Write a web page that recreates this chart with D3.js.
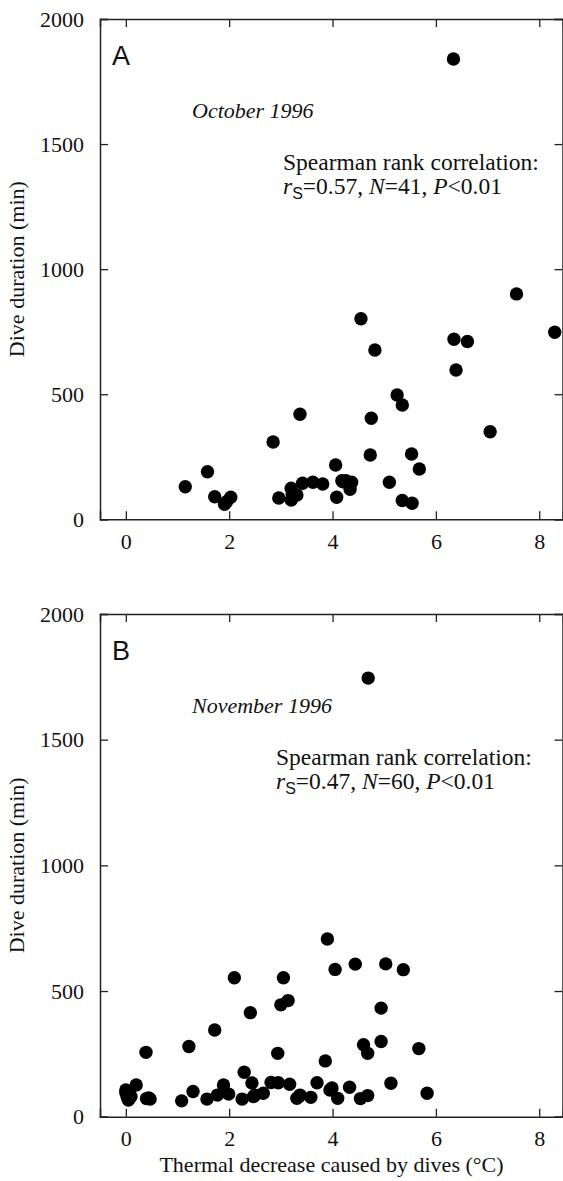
<!DOCTYPE html>
<html>
<head>
<meta charset="utf-8">
<script src="https://cdn.jsdelivr.net/npm/d3@7"></script>
<style>
  body { margin: 0; background: #fff; }
  svg { display: block; }
  text { font-family: "Liberation Serif", "Times New Roman", serif; fill: #111; }
</style>
</head>
<body>
<svg id="chart" width="563" height="1181"></svg>
<script>
// thermal decrease (°C), dive duration (min)
const octX = [1.15, 1.58, 1.72, 1.91, 2.03, 1.95, 2.85, 2.96, 3.20, 3.20, 3.22, 3.31, 3.37, 3.42,
  3.62, 3.81, 4.06, 4.08, 4.18, 4.26, 4.34, 4.37, 4.55, 4.73, 4.75, 4.82, 5.10, 5.25, 5.35, 5.35,
  5.53, 5.54, 5.68, 6.34, 6.35, 6.39, 6.61, 7.05, 7.56, 8.30, 4.20];
const octY = [130, 190, 90, 60, 88, 70, 309, 85, 124, 77, 100, 97, 420, 144,
  148, 141, 217, 88, 154, 154, 120, 148, 802, 257, 404, 677, 148, 497, 457, 75,
  261, 64, 201, 1840, 720, 597, 711, 350, 901, 748, 150];

const novX = [0.00, 0.20, 0.05, 0.02, 0.40, 0.47, 0.39, 1.08, 1.22, 1.30, 1.57, 1.72, 1.77, 1.89,
  1.99, 2.10, 2.25, 2.29, 2.41, 2.44, 2.50, 2.66, 2.81, 2.94, 2.95, 3.00, 3.05, 3.14, 3.17, 3.31,
  3.37, 3.58, 3.70, 3.86, 3.90, 3.95, 4.05, 4.10, 4.33, 4.44, 4.54, 4.60, 4.68, 4.68, 4.69, 4.94,
  4.94, 5.03, 5.13, 5.37, 5.67, 5.83, 0.10, 0.00, 3.99, 0.44, 0.06, 0.03, 2.47, 3.35];
const novY = [106, 126, 66, 86, 72, 70, 256, 63, 279, 100, 70, 345, 86, 126,
  90, 553, 70, 177, 414, 134, 86, 93, 136, 252, 135, 445, 553, 462, 129, 73,
  86, 77, 135, 222, 707, 106, 586, 73, 117, 607, 72, 286, 252, 84, 1745, 432,
  299, 608, 133, 585, 271, 93, 80, 95, 114, 75, 100, 75, 80, 80];

const xTicks = [0, 2, 4, 6, 8];
const yTicks = [0, 500, 1000, 1500, 2000];

const panels = [
  { letter: "A", month: "October 1996", rs: "0.57", n: "41", xs: octX, ys: octY,
    top: 19, bottom: 519.3, statX: 283 },
  { letter: "B", month: "November 1996", rs: "0.47", n: "60", xs: novX, ys: novY,
    top: 614, bottom: 1116.7, statX: 276 }
];

const svg = d3.select("#chart");
const left = 100, right = 563;
const x = d3.scaleLinear().domain([-0.5, 8.46]).range([left, right]);
const tickLen = 8;

panels.forEach((p, i) => {
  const y = d3.scaleLinear().domain([0, 2000]).range([p.bottom, p.top]);
  const g = svg.append("g");

  // frame with inward ticks on all four sides
  const bottomAxis = g.append("g").attr("transform", `translate(0,${p.bottom})`)
    .call(d3.axisBottom(x).tickValues(xTicks).tickSize(-tickLen).tickPadding(tickLen + 6)
      .tickFormat(d3.format("d")));
  const topAxis = g.append("g").attr("transform", `translate(0,${p.top})`)
    .call(d3.axisTop(x).tickValues(xTicks).tickSize(-tickLen).tickFormat(""));
  const leftAxis = g.append("g").attr("transform", `translate(${left},0)`)
    .call(d3.axisLeft(y).tickValues(yTicks).tickSize(-tickLen).tickPadding(tickLen + 8)
      .tickFormat(d3.format("d")));
  const rightAxis = g.append("g").attr("transform", `translate(${right - 0.5},0)`)
    .call(d3.axisRight(y).tickValues(yTicks).tickSize(-tickLen).tickFormat(""));

  [bottomAxis, topAxis, leftAxis, rightAxis].forEach(a => {
    a.select(".domain").attr("stroke", "#222").attr("stroke-width", 1.5);
    a.selectAll(".tick line").attr("stroke", "#222").attr("stroke-width", 1.3);
    a.selectAll(".tick text").attr("font-family", "Liberation Serif").attr("font-size", 22)
      .attr("fill", "#111");
  });

  g.append("g").selectAll("circle")
    .data(p.xs.map((v, k) => [v, p.ys[k]]))
    .join("circle")
    .attr("cx", d => x(d[0]))
    .attr("cy", d => y(d[1]))
    .attr("r", 6.7)
    .attr("fill", "#000");

  g.append("text").attr("x", 112).attr("y", p.top + 46)
    .style("font-family", "Liberation Sans, Arial, sans-serif")
    .attr("font-size", 27).text(p.letter);

  g.append("text").attr("x", 192).attr("y", p.top + 99)
    .attr("font-size", 22).attr("font-style", "italic").text(p.month);

  g.append("text").attr("x", p.statX).attr("y", p.top + 151)
    .attr("font-size", 23.5).text("Spearman rank correlation:");

  const st = g.append("text").attr("x", p.statX).attr("y", p.top + 175).attr("font-size", 23.5);
  st.append("tspan").attr("font-style", "italic").text("r");
  st.append("tspan").attr("dy", 5).attr("font-size", 16)
    .style("font-family", "Liberation Sans, Arial, sans-serif").text("S");
  st.append("tspan").attr("dy", -5).text("=" + p.rs + ", ");
  st.append("tspan").attr("font-style", "italic").text("N");
  st.append("tspan").text("=" + p.n + ", ");
  st.append("tspan").attr("font-style", "italic").text("P");
  st.append("tspan").text("<0.01");

  svg.append("text")
    .attr("transform", `translate(24,${(p.top + p.bottom) / 2}) rotate(-90)`)
    .attr("text-anchor", "middle").attr("font-size", 22).text("Dive duration (min)");
});

svg.append("text").attr("x", (left + right) / 2).attr("y", 1172)
  .attr("text-anchor", "middle").attr("font-size", 22)
  .text("Thermal decrease caused by dives (°C)");
</script>
</body>
</html>
